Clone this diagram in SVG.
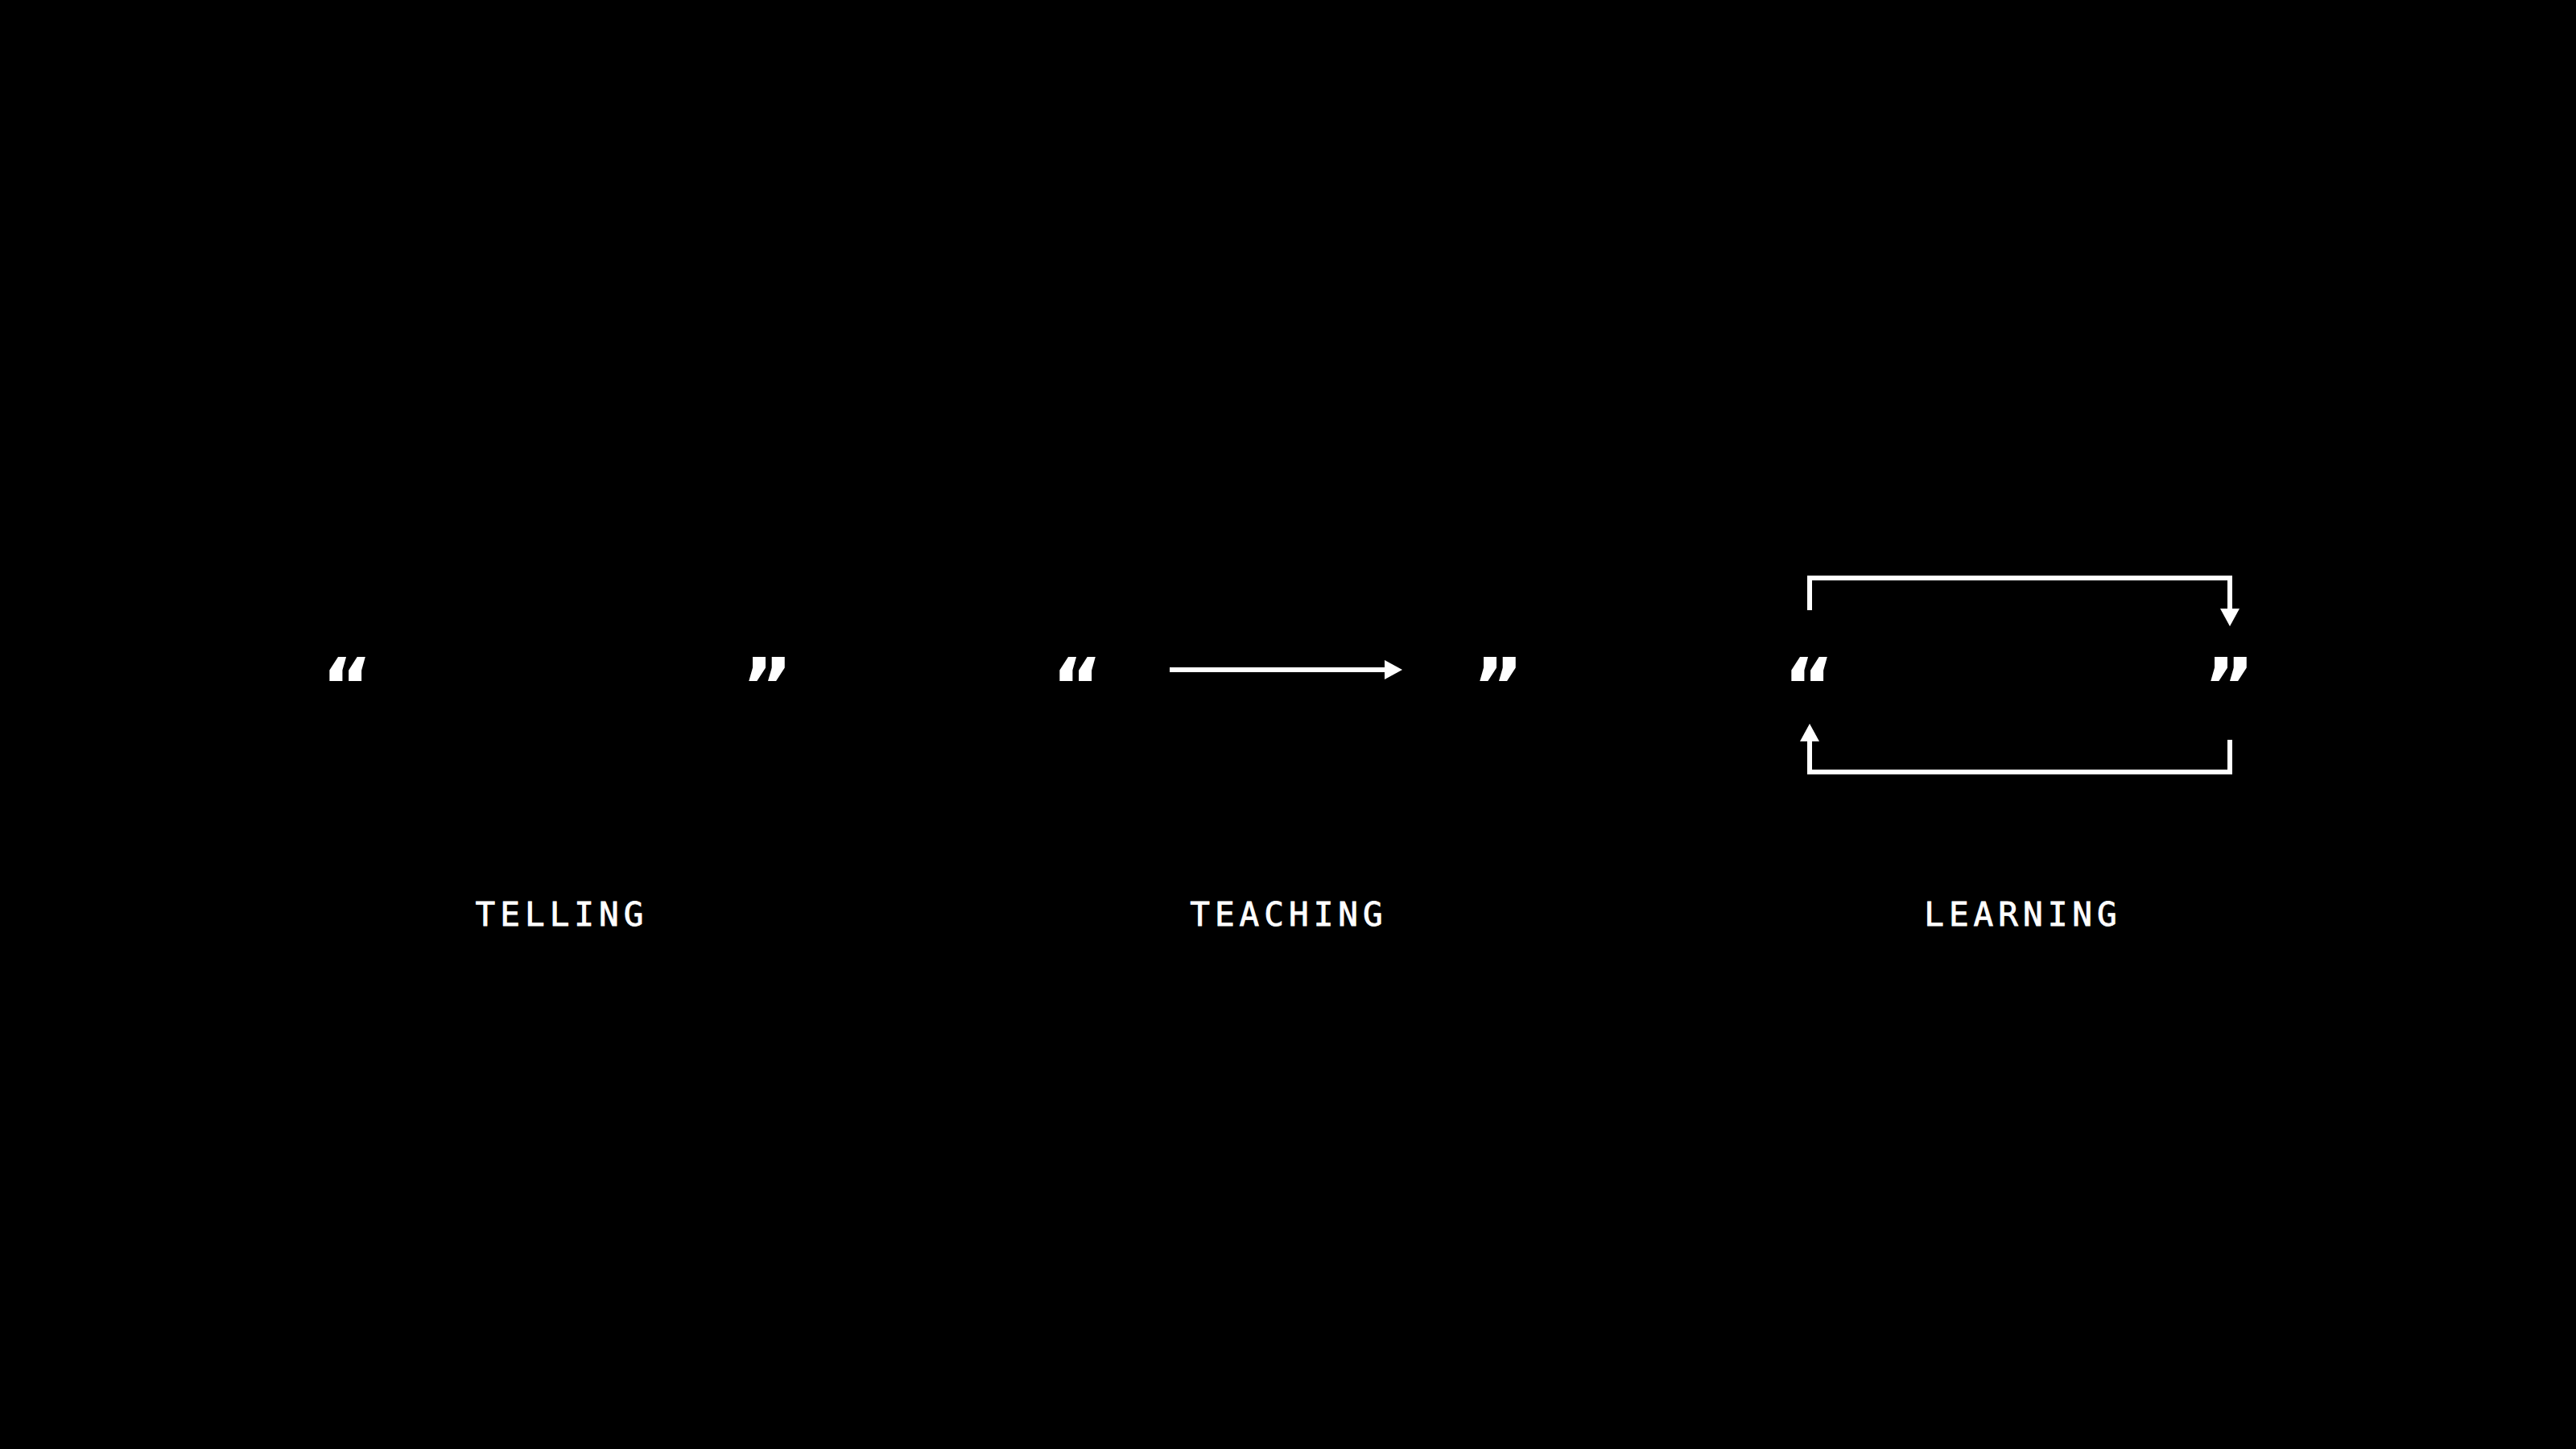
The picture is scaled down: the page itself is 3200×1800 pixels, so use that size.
<svg xmlns="http://www.w3.org/2000/svg" width="3200" height="1800" viewBox="0 0 3200 1800">
<defs>
<style>
.q{font-family:"DejaVu Sans",sans-serif;font-weight:bold;font-size:96px;fill:#fff;text-anchor:middle}
.lbl{font-family:"DejaVu Sans Mono",monospace;font-size:41px;fill:#fff;stroke:#fff;stroke-width:0.8;text-anchor:middle;letter-spacing:6px}
.c{fill:none;stroke:#fff;stroke-width:6}
</style>
<marker id="ah" viewBox="0 0 22 24" refX="0" refY="12" markerWidth="22" markerHeight="24" markerUnits="userSpaceOnUse" orient="auto">
<path d="M0,0 L22,12 L0,24 Z" fill="#fff"/>
</marker>
</defs>
<rect x="0" y="0" width="3200" height="1800" fill="#000"/>
<g id="telling">
<text class="q" x="431" y="886">“</text>
<text class="q" x="953" y="886">”</text>
<text class="lbl" x="698" y="1150">TELLING</text>
</g>
<g id="teaching">
<text class="q" x="1338" y="886">“</text>
<text class="q" x="1861" y="886">”</text>
<text class="lbl" x="1601" y="1150">TEACHING</text>
</g>
<g id="learning">
<text class="q" x="2247" y="886">“</text>
<text class="q" x="2769" y="886">”</text>
<text class="lbl" x="2513" y="1150">LEARNING</text>
</g>
<g id="connectors">
<path class="c" d="M1453,832 H1720" marker-end="url(#ah)"/>
<path class="c" d="M2248,758 V718 H2770 V756" marker-end="url(#ah)"/>
<path class="c" d="M2770,919 V959 H2248 V921" marker-end="url(#ah)"/>
</g>
</svg>
